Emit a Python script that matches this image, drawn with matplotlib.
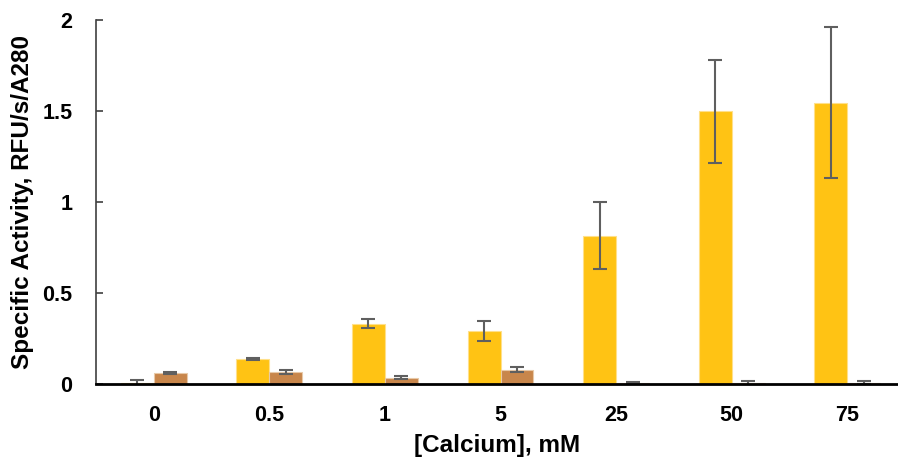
import numpy as np
import matplotlib.pyplot as plt

plt.rcParams['font.family'] = ['Liberation Sans', 'DejaVu Sans']

categories = ['0', '0.5', '1', '5', '25', '50', '75']
yellow_vals = [0.005, 0.137, 0.33, 0.293, 0.815, 1.50, 1.545]
yellow_err = [0.016, 0.004, 0.024, 0.055, 0.185, 0.283, 0.415]
brown_vals = [0.06, 0.066, 0.035, 0.079, 0.007, 0.005, 0.007]
brown_err = [0.006, 0.012, 0.007, 0.015, 0.006, 0.01, 0.01]

fig = plt.figure(figsize=(8.98, 4.57), dpi=100)
ax = fig.add_axes([0.107, 0.160, 0.893, 0.796])

x = np.arange(len(categories))
w = 0.285
err_kw = dict(ecolor='#5f5f5f', elinewidth=1.5, capsize=5, capthick=1.5)
ax.bar(x - w / 2, yellow_vals, w, yerr=yellow_err, color='#FFC314',
       edgecolor='#FFE08A', linewidth=0.8, error_kw=err_kw, zorder=2)
ax.bar(x + w / 2, brown_vals, w, yerr=brown_err, color='#C8864B',
       edgecolor='#E8C9A8', linewidth=0.8, error_kw=err_kw, zorder=2)

ax.set_xlim(-0.5, 6.44)
ax.set_ylim(0, 2)
ax.set_yticks([0, 0.5, 1, 1.5, 2])
ax.set_yticklabels(['0', '0.5', '1', '1.5', '2'])
ax.set_xticks(x)
ax.set_xticklabels(categories)

for s in ['top', 'right']:
    ax.spines[s].set_visible(False)
ax.spines['left'].set_color('#404040')
ax.spines['left'].set_linewidth(1.2)
ax.spines['bottom'].set_color('black')
ax.spines['bottom'].set_linewidth(2)
ax.spines['bottom'].set_zorder(3)

ax.tick_params(axis='y', direction='in', length=5, width=1.2, color='#404040',
               labelsize=15.5, pad=17)
ax.tick_params(axis='x', length=0, labelsize=15.5, pad=15)
for lab in ax.get_xticklabels() + ax.get_yticklabels():
    lab.set_fontweight('bold')

ax.set_ylabel('Specific Activity, RFU/s/A280', fontsize=17.5, fontweight='bold',
              labelpad=6)
ax.set_xlabel('[Calcium], mM', fontsize=17.5, fontweight='bold', labelpad=6)

fig.savefig('out.png', dpi=100)
